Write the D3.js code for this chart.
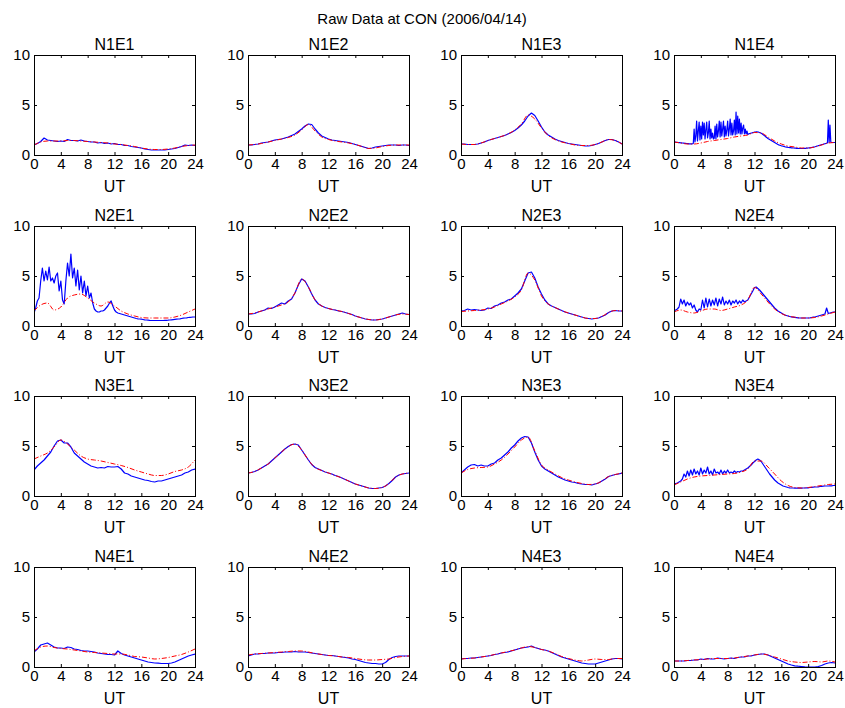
<!DOCTYPE html>
<html>
<head>
<meta charset="utf-8">
<script src="https://cdn.jsdelivr.net/npm/d3@7"></script>
<style>
html,body{margin:0;padding:0;background:#fff;}
svg{display:block;}
text{font-family:"Liberation Sans",Arial,Helvetica,sans-serif;fill:#000;}
</style>
</head>
<body>
<svg id="chart" width="845" height="708"></svg>
<script>
const mainTitle = "Raw Data at CON (2006/04/14)";
const panelNames = ["N1E1","N1E2","N1E3","N1E4","N2E1","N2E2","N2E3","N2E4",
                    "N3E1","N3E2","N3E3","N3E4","N4E1","N4E2","N4E3","N4E4"];
const xTicks = [0,4,8,12,16,20,24];
const yTicks = [0,5,10];
const xLabel = "UT";

// Blue (measured) series, evenly spaced over 0..24 UT
const blueN1E1 = [1.0,1.15,1.35,1.7,1.5,1.45,1.4,1.35,
  1.4,1.35,1.55,1.45,1.45,1.4,1.5,1.4,
  1.35,1.3,1.3,1.2,1.25,1.15,1.2,1.1,
  1.15,1.05,1.05,0.95,0.95,0.85,0.8,0.75,
  0.7,0.6,0.55,0.5,0.5,0.5,0.5,0.5,
  0.55,0.6,0.65,0.75,0.85,1.0,0.95,1.0,
  0.95];
const blueN1E2 = [1.0,1.0,1.05,1.1,1.2,1.25,1.3,1.4,
  1.5,1.55,1.6,1.7,1.8,1.95,2.1,2.35,
  2.6,2.9,3.1,3.05,2.6,2.2,1.9,1.75,
  1.6,1.5,1.45,1.4,1.35,1.3,1.25,1.15,
  1.05,0.95,0.85,0.75,0.65,0.7,0.8,0.85,
  0.9,0.95,1.0,1.0,1.0,0.95,1.0,1.0,
  0.95];
const blueN1E3 = [1.1,1.1,1.05,1.05,1.05,1.1,1.2,1.3,
  1.45,1.55,1.65,1.75,1.85,1.95,2.1,2.25,
  2.45,2.7,3.0,3.4,3.9,4.2,3.95,3.4,
  2.8,2.3,2.0,1.8,1.6,1.45,1.35,1.25,
  1.15,1.1,1.05,1.0,0.95,0.9,0.9,0.95,
  1.05,1.15,1.3,1.45,1.55,1.55,1.45,1.3,
  1.1];
const blueN1E4 = [1.3,1.29,1.28,1.27,1.26,1.25,1.24,1.23,
  1.22,1.21,1.2,1.19,1.18,1.17,1.16,1.15,
  1.14,1.13,1.12,1.12,1.11,1.11,1.12,1.15,
  2.6,1.3,1.9,3.4,1.4,2.4,3.3,1.5,
  2.9,1.6,3.3,2.0,3.2,1.6,2.5,3.3,
  1.7,2.2,3.4,1.6,2.6,1.7,2.2,1.6,
  1.7,2.9,1.6,3.1,1.8,2.4,3.4,1.8,
  3.3,1.9,2.6,3.4,1.8,2.9,1.9,2.5,
  3.4,1.9,2.6,3.6,2.0,3.2,2.0,2.4,
  3.5,2.0,4.3,2.1,3.9,2.2,3.6,2.1,
  3.2,2.1,2.7,3.0,2.1,2.6,2.1,2.4,
  2.05,2.1,2.15,2.15,2.2,2.2,2.25,2.25,
  2.3,2.3,2.32,2.32,2.3,2.28,2.25,2.22,
  2.18,2.12,2.06,2.0,1.93,1.86,1.78,1.72,
  1.65,1.6,1.55,1.5,1.45,1.4,1.35,1.3,
  1.25,1.2,1.15,1.1,1.05,1.0,0.98,0.95,
  0.92,0.9,0.88,0.85,0.83,0.8,0.79,0.78,
  0.76,0.75,0.74,0.73,0.72,0.71,0.7,0.7,
  0.69,0.68,0.67,0.66,0.66,0.65,0.65,0.65,
  0.65,0.65,0.65,0.66,0.66,0.67,0.68,0.69,
  0.7,0.71,0.72,0.73,0.75,0.77,0.79,0.8,
  0.82,0.85,0.88,0.9,0.93,0.95,0.98,1.0,
  1.03,1.05,1.08,1.1,1.13,1.15,1.18,1.2,
  3.5,1.25,3.0,1.3,1.25,1.25,1.25,1.25,
  1.25];
const blueN2E1 = [1.3,1.8,2.5,2.8, 4.5,5.8,4.5,5.5, 4.6,5.9,4.5,4.8, 4.3,5.0,5.3,3.5,
  4.5,2.6,2.2,4.5, 6.3,5.0,7.2,4.8, 5.8,4.0,5.6,3.6, 5.0,3.3,4.5,3.0,
  4.0,2.8,3.3,2.3, 1.7,1.5,1.4,1.4, 1.5,1.5,1.6,1.8, 2.0,2.3,2.5,2.0,
  1.6,1.4,1.3,1.25, 1.2,1.15,1.1,1.05, 1.0,0.95,0.9,0.85, 0.8,0.75,0.72,0.7,
  0.68,0.65,0.62,0.6, 0.58,0.56,0.55,0.55, 0.55,0.55,0.55,0.55, 0.55,0.55,0.56,0.57,
  0.58,0.6,0.62,0.64, 0.66,0.68,0.7,0.72, 0.75,0.78,0.8,0.82, 0.85,0.87,0.88,0.9,
  0.9];
const blueN2E2 = [1.2,1.2,1.25,1.4,1.5,1.6,1.8,1.75,
  1.9,2.1,2.3,2.2,2.5,2.7,3.3,4.1,
  4.7,4.5,3.9,3.2,2.6,2.2,2.0,1.85,
  1.75,1.65,1.6,1.5,1.45,1.35,1.25,1.15,
  1.0,0.9,0.8,0.7,0.65,0.6,0.6,0.65,
  0.7,0.8,0.9,1.0,1.1,1.2,1.3,1.2,
  1.15];
const blueN2E3 = [1.5,1.55,1.7,1.6,1.65,1.6,1.55,1.6,
  1.8,1.75,2.0,2.1,2.3,2.4,2.6,2.7,
  3.0,3.3,3.7,4.5,5.3,5.4,4.8,3.9,
  3.2,2.6,2.2,2.0,1.85,1.7,1.55,1.4,
  1.3,1.2,1.1,1.0,0.9,0.8,0.75,0.7,
  0.75,0.8,0.95,1.1,1.35,1.5,1.55,1.5,
  1.5];
const blueN2E4 = [1.5,1.6,1.7,1.9, 2.7,2.2,2.6,2.0, 2.4,2.1,2.3,1.8, 2.1,1.6,1.4,1.7,
  1.6,2.6,1.8,2.8, 1.9,2.7,2.0,2.6, 2.1,2.8,2.0,2.7, 2.2,2.9,2.1,2.5,
  2.2,2.6,2.1,2.5, 2.3,2.6,2.2,2.5, 2.3,2.6,2.4,2.5, 2.6,2.9,3.2,3.5,
  3.85,3.9,3.75,3.6, 3.4,3.2,3.0,2.8, 2.6,2.4,2.2,2.0, 1.8,1.65,1.5,1.4,
  1.3,1.2,1.1,1.05, 1.0,0.95,0.9,0.88, 0.86,0.84,0.82,0.8, 0.8,0.8,0.8,0.8,
  0.8,0.82,0.85,0.88, 0.9,0.95,1.0,1.05, 1.1,1.15,1.2,1.8, 1.25,1.3,1.35,1.4,
  1.4];
const blueN3E1 = [2.6,3.0,3.3,3.6,4.0,4.4,5.0,5.5,
  5.6,5.3,5.3,4.9,4.3,4.0,3.7,3.4,
  3.2,3.0,2.9,2.8,2.85,2.8,2.95,2.9,
  2.9,2.95,2.7,2.3,2.2,2.0,1.9,1.8,
  1.7,1.6,1.55,1.45,1.4,1.5,1.5,1.6,
  1.7,1.8,1.9,2.0,2.1,2.3,2.4,2.6,
  2.7];
const blueN3E2 = [2.3,2.35,2.45,2.6,2.8,3.0,3.2,3.5,
  3.8,4.1,4.4,4.7,4.95,5.15,5.2,5.1,
  4.6,4.1,3.6,3.15,2.85,2.7,2.55,2.4,
  2.3,2.2,2.05,1.95,1.8,1.65,1.5,1.35,
  1.2,1.1,1.0,0.9,0.8,0.75,0.75,0.8,
  0.85,1.0,1.25,1.55,1.9,2.1,2.2,2.25,
  2.3];
const blueN3E3 = [2.3,2.6,2.9,3.1,3.15,3.0,3.1,3.0,
  3.0,3.2,3.3,3.6,3.8,4.1,4.4,4.8,
  5.1,5.5,5.8,5.95,5.9,5.3,4.4,3.6,
  3.0,2.7,2.5,2.3,2.1,1.9,1.75,1.6,
  1.5,1.4,1.35,1.25,1.2,1.15,1.15,1.1,
  1.2,1.3,1.5,1.7,1.95,2.05,2.15,2.2,
  2.3];
const blueN3E4 = [1.2,1.25,1.3,1.4, 1.5,1.7,2.2,1.9, 2.5,2.0,2.6,2.1, 2.7,2.2,2.5,2.1,
  2.8,2.2,2.6,2.3, 2.9,2.2,2.5,2.1, 2.7,2.3,2.4,2.2, 2.6,2.2,2.5,2.3,
  2.6,2.3,2.4,2.3, 2.5,2.35,2.45,2.4, 2.5,2.5,2.6,2.7, 2.8,2.95,3.1,3.3,
  3.45,3.6,3.7,3.6, 3.45,3.2,2.95,2.7, 2.45,2.2,2.0,1.8, 1.6,1.45,1.3,1.2,
  1.1,1.0,0.95,0.9, 0.85,0.82,0.8,0.8, 0.78,0.78,0.78,0.78, 0.78,0.8,0.8,0.82,
  0.82,0.85,0.85,0.88, 0.9,0.9,0.92,0.95, 0.95,0.98,1.0,1.0, 1.0,1.02,1.02,1.05,
  1.05];
const blueN4E1 = [1.5,1.8,2.2,2.3,2.4,2.2,2.0,1.9,
  1.9,1.85,2.0,1.95,1.8,1.75,1.65,1.6,
  1.6,1.55,1.5,1.4,1.35,1.3,1.25,1.25,
  1.2,1.6,1.35,1.2,1.1,1.0,0.9,0.8,
  0.7,0.6,0.5,0.45,0.4,0.38,0.35,0.35,
  0.35,0.4,0.5,0.65,0.8,0.95,1.1,1.2,
  1.3];
const blueN4E2 = [1.1,1.2,1.3,1.3,1.35,1.35,1.4,1.4,
  1.4,1.45,1.45,1.5,1.5,1.5,1.55,1.5,
  1.5,1.5,1.45,1.4,1.35,1.3,1.25,1.2,
  1.15,1.15,1.1,1.05,1.0,0.95,0.9,0.8,
  0.75,0.65,0.55,0.45,0.4,0.35,0.35,0.3,
  0.3,0.45,0.75,0.95,1.05,1.1,1.1,1.1,
  1.1];
const blueN4E3 = [0.8,0.85,0.85,0.9,0.9,0.95,1.0,1.05,
  1.1,1.15,1.25,1.3,1.4,1.45,1.5,1.6,
  1.7,1.8,1.9,1.95,2.0,2.1,1.95,1.85,
  1.75,1.7,1.6,1.45,1.3,1.15,1.0,0.9,
  0.8,0.7,0.6,0.5,0.4,0.35,0.3,0.3,
  0.3,0.4,0.5,0.6,0.7,0.8,0.85,0.85,
  0.8];
const blueN4E4 = [0.6,0.6,0.6,0.6,0.65,0.65,0.7,0.7,
  0.8,0.75,0.85,0.8,0.8,0.9,0.85,0.8,
  0.85,0.9,0.85,0.95,1.0,1.0,1.1,1.1,
  1.2,1.25,1.3,1.3,1.2,1.05,0.9,0.75,
  0.6,0.45,0.3,0.2,0.12,0.08,0.05,0.02,
  0.0,0.0,0.0,0.05,0.15,0.3,0.4,0.45,
  0.4];

// Red (model) series, hourly 0..24 UT
const redN1E1 = [1.0,1.3,1.4,1.4,1.4,1.45,1.45,1.4,1.35,1.3,1.25,1.2,1.1,1.05,0.95,0.85,0.7,0.6,0.55,0.55,0.6,0.7,0.85,0.95,1.0];
const redN1E2 = [1.0,1.05,1.15,1.3,1.45,1.6,1.75,2.0,2.5,3.05,2.4,1.8,1.55,1.4,1.3,1.2,1.05,0.85,0.65,0.7,0.85,0.95,1.0,1.0,1.0];
const redN1E3 = [1.1,1.05,1.05,1.2,1.45,1.65,1.85,2.1,2.5,3.1,4.0,3.6,2.7,1.95,1.55,1.3,1.15,1.0,0.95,0.95,1.05,1.3,1.55,1.45,1.1];
const redN1E4 = [1.3,1.2,1.1,1.1,1.2,1.35,1.45,1.55,1.65,1.8,1.9,2.0,2.25,2.2,1.8,1.4,1.1,0.9,0.8,0.7,0.7,0.8,1.0,1.2,1.25];
const redN2E1 = [1.5,2.1,2.3,1.6,1.9,2.8,3.1,3.2,2.8,2.3,2.0,2.4,2.0,1.5,1.2,1.0,0.85,0.8,0.8,0.8,0.8,0.9,1.1,1.4,1.7];
const redN2E2 = [1.2,1.3,1.5,1.7,1.9,2.1,2.4,3.3,4.7,3.9,2.6,2.0,1.75,1.6,1.45,1.25,1.0,0.8,0.65,0.6,0.7,0.9,1.1,1.2,1.15];
const redN2E3 = [1.45,1.5,1.55,1.6,1.7,1.9,2.2,2.5,2.9,3.6,5.3,4.6,3.0,2.2,1.85,1.55,1.3,1.1,0.9,0.75,0.75,0.95,1.35,1.55,1.5];
const redN2E4 = [1.4,1.6,1.4,1.3,1.5,1.7,1.7,1.55,1.7,1.9,2.1,2.6,3.85,3.2,2.4,1.7,1.25,1.0,0.88,0.8,0.8,0.85,1.0,1.2,1.4];
const redN3E1 = [3.7,4.0,4.3,4.9,5.6,5.2,4.6,4.0,3.7,3.6,3.5,3.35,3.2,3.05,2.85,2.6,2.4,2.2,2.05,2.05,2.2,2.45,2.6,2.9,3.6];
const redN3E2 = [2.3,2.45,2.8,3.2,3.8,4.4,4.95,5.2,4.6,3.6,2.85,2.55,2.3,2.05,1.8,1.5,1.2,1.0,0.8,0.75,0.85,1.25,1.9,2.2,2.3];
const redN3E3 = [2.3,2.65,2.8,2.85,2.9,3.2,3.6,4.2,4.9,5.6,5.9,4.5,3.1,2.6,2.2,1.85,1.6,1.4,1.25,1.15,1.2,1.5,1.95,2.15,2.3];
const redN3E4 = [1.1,1.4,1.7,1.9,2.0,2.05,2.1,2.15,2.2,2.25,2.4,2.7,3.5,3.5,2.9,2.2,1.5,1.05,0.85,0.8,0.85,0.95,1.05,1.15,1.2];
const redN4E1 = [1.6,2.0,2.1,1.95,1.85,1.8,1.7,1.6,1.5,1.45,1.4,1.35,1.3,1.3,1.2,1.05,1.0,0.9,0.8,0.85,0.95,1.1,1.25,1.5,1.8];
const redN4E2 = [1.2,1.3,1.35,1.4,1.45,1.5,1.55,1.6,1.6,1.5,1.35,1.25,1.15,1.1,1.0,0.95,0.85,0.75,0.7,0.7,0.75,0.8,0.95,1.05,1.1];
const redN4E3 = [0.8,0.85,0.9,1.0,1.1,1.25,1.4,1.55,1.7,1.9,2.05,1.95,1.75,1.6,1.35,1.05,0.85,0.7,0.6,0.7,0.8,0.75,0.75,0.85,0.85];
const redN4E4 = [0.6,0.6,0.65,0.7,0.75,0.8,0.85,0.85,0.85,0.9,1.0,1.1,1.2,1.3,1.2,1.0,0.8,0.6,0.5,0.45,0.5,0.55,0.5,0.6,0.5];

const blueSeries = [blueN1E1,blueN1E2,blueN1E3,blueN1E4,blueN2E1,blueN2E2,blueN2E3,blueN2E4,
                    blueN3E1,blueN3E2,blueN3E3,blueN3E4,blueN4E1,blueN4E2,blueN4E3,blueN4E4];
const redSeries = [redN1E1,redN1E2,redN1E3,redN1E4,redN2E1,redN2E2,redN2E3,redN2E4,
                   redN3E1,redN3E2,redN3E3,redN3E4,redN4E1,redN4E2,redN4E3,redN4E4];

const svg = d3.select("#chart");
const colLeft = [34, 248, 461, 674];
const rowTop = [55, 226, 396, 567];
const W = 161, H = 100;

svg.append("text").attr("x", 422).attr("y", 24).attr("text-anchor","middle")
  .style("font-size","15px").text(mainTitle);

const x = d3.scaleLinear().domain([0,24]).range([0,W]);
const y = d3.scaleLinear().domain([0,10]).range([H,0]);

panelNames.forEach((name, k) => {
  const r = Math.floor(k/4), c = k%4;
  const g = svg.append("g").attr("transform", `translate(${colLeft[c]},${rowTop[r]})`);
  const clipId = "clip"+k;
  g.append("clipPath").attr("id", clipId).append("rect").attr("x",0).attr("y",-1).attr("width",W).attr("height",H+1);

  const blue = blueSeries[k], red = redSeries[k];
  const bStep = 24/(blue.length-1), rStep = 24/(red.length-1);
  const lineB = d3.line().x((d,i)=>x(i*bStep)).y(d=>y(d));
  const lineR = d3.line().x((d,i)=>x(i*rStep)).y(d=>y(d)).curve(d3.curveMonotoneX);

  const plot = g.append("g").attr("clip-path", `url(#${clipId})`);
  plot.append("path").datum(blue).attr("d", lineB)
    .attr("fill","none").attr("stroke","#0000ff").attr("stroke-width",1.2).attr("stroke-linejoin","round");
  plot.append("path").datum(red).attr("d", lineR)
    .attr("fill","none").attr("stroke","#ff0000").attr("stroke-width",1)
    .attr("stroke-dasharray","5,2,1,2");

  const bottom = g.append("g").attr("transform",`translate(0,${H})`)
    .call(d3.axisBottom(x).tickValues(xTicks).tickSize(-3).tickPadding(3).tickFormat(d3.format("d")));
  const top = g.append("g").call(d3.axisTop(x).tickValues(xTicks).tickSize(-3).tickFormat(""));
  const left = g.append("g")
    .call(d3.axisLeft(y).tickValues(yTicks).tickSize(-3).tickPadding(4).tickFormat(d3.format("d")));
  const right = g.append("g").attr("transform",`translate(${W},0)`)
    .call(d3.axisRight(y).tickValues(yTicks).tickSize(-3).tickFormat(""));
  [bottom, top, left, right].forEach(a => {
    a.select(".domain").remove();
    a.selectAll("line").attr("stroke","#000");
    a.selectAll("text").style("font-size","15px").style("font-family","'Liberation Sans',Arial,sans-serif").attr("fill","#000");
  });
  g.append("rect").attr("x",0.5).attr("y",0.5).attr("width",W).attr("height",H)
    .attr("fill","none").attr("stroke","#000").attr("stroke-width",1);

  g.append("text").attr("x", W/2).attr("y", -5).attr("text-anchor","middle")
    .style("font-size","16px").text(name);
  g.append("text").attr("x", W/2).attr("y", H+37).attr("text-anchor","middle")
    .style("font-size","16px").text(xLabel);
});
</script>
</body>
</html>
